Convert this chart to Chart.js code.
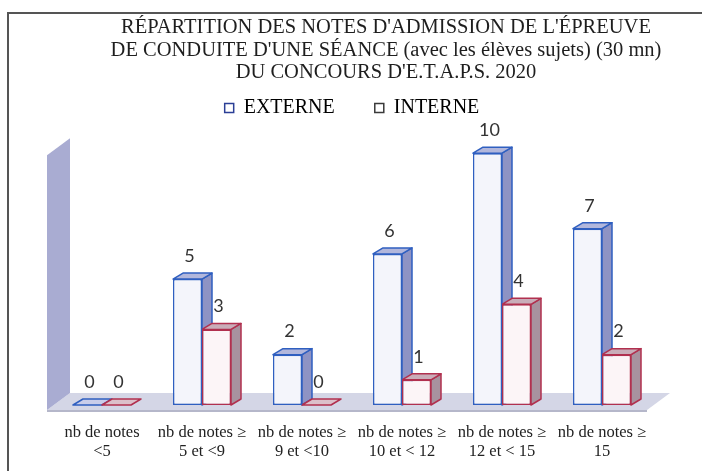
<!DOCTYPE html>
<html><head><meta charset="utf-8">
<script src="https://cdn.jsdelivr.net/npm/chart.js@4/dist/chart.umd.min.js"></script>
<style>html,body{margin:0;padding:0;background:#fff}#wrap{position:relative;width:702px;height:471px}</style>
</head><body><div id="wrap"><canvas id="c" width="702" height="471"></canvas></div>
<script>
const titleLines = ["RÉPARTITION DES NOTES D'ADMISSION DE L'ÉPREUVE", "DE CONDUITE D'UNE SÉANCE (avec les élèves sujets) (30 mn)", "DU CONCOURS D'E.T.A.P.S. 2020"];
const categories = [["nb de notes", "<5"], ["nb de notes ≥", "5 et <9"], ["nb de notes ≥", "9 et <10"], ["nb de notes ≥", "10 et < 12"], ["nb de notes ≥", "12 et < 15"], ["nb de notes ≥", "15"]];
const seriesNames = ["EXTERNE", "INTERNE"];
const externe = [0, 5, 2, 6, 10, 7];
const interne = [0, 3, 0, 1, 4, 2];
const wallTopValue = 10;

const SERIF = "'Liberation Serif', 'DejaVu Serif', serif";
const style = [
  {front: '#f4f5fb', border: '#2f5fc0', side: '#8e93c4', top: '#b2b7dc', flat: '#c9cdea', legend: '#2b3f96'},
  {front: '#fcf5f7', border: '#b1304f', side: '#a8929f', top: '#c9adb9', flat: '#dcc0ca', legend: '#3a3a3a'}
];
const D = {dx: 10, dy: -6};

const frame = {
  id: 'frame',
  beforeDraw(chart) {
    const ctx = chart.ctx;
    ctx.save();
    ctx.fillStyle = '#fff';
    ctx.fillRect(0, 0, chart.width, chart.height);
    ctx.strokeStyle = '#555';
    ctx.lineWidth = 2;
    ctx.beginPath();
    ctx.moveTo(8, chart.height);
    ctx.lineTo(8, 13);
    ctx.lineTo(chart.width, 13);
    ctx.stroke();
    ctx.fillStyle = '#1e1e1e';
    ctx.font = "20.5px " + SERIF;
    ctx.textAlign = 'center';
    ctx.textBaseline = 'middle';
    const ys = [28, 51, 73];
    titleLines.forEach((t, i) => ctx.fillText(t, 386, ys[i]));
    ctx.restore();
  }
};

const threeD = {
  id: 'threeD',
  beforeDatasetsDraw(chart) {
    const ctx = chart.ctx, a = chart.chartArea, y = chart.scales.y;
    const base = y.getPixelForValue(0);
    const wallTop = y.getPixelForValue(wallTopValue) + 2;
    const fx = a.left - 5, fy = base + 5, bdx = 23, bdy = -17;
    ctx.save();
    // floor
    ctx.beginPath();
    ctx.moveTo(fx, fy); ctx.lineTo(a.right - 5, fy);
    ctx.lineTo(a.right - 5 + bdx, fy + bdy); ctx.lineTo(fx + bdx, fy + bdy);
    ctx.closePath();
    ctx.fillStyle = '#d4d6e6';
    ctx.fill();
    ctx.fillStyle = '#b5b7ca';
    ctx.fillRect(fx, fy, a.right - 5 - fx, 2);
    // wall
    ctx.beginPath();
    ctx.moveTo(fx, fy); ctx.lineTo(fx, wallTop);
    ctx.lineTo(fx + bdx, wallTop + bdy); ctx.lineTo(fx + bdx, fy + bdy);
    ctx.closePath();
    ctx.fillStyle = '#a9acd2';
    ctx.fill();
    // bar side & top faces
    const n = chart.data.labels.length;
    for (let i = 0; i < n; i++) {
      chart.data.datasets.forEach((ds, di) => {
        const el = chart.getDatasetMeta(di).data[i];
        const s = style[di];
        const l = el.x - el.width / 2, r = el.x + el.width / 2, t = el.y, b = el.base;
        ctx.lineWidth = 1.5;
        ctx.strokeStyle = s.border;
        ctx.lineJoin = 'round';
        if (ds.data[i] > 0) {
          ctx.beginPath();
          ctx.moveTo(r, t); ctx.lineTo(r + D.dx, t + D.dy); ctx.lineTo(r + D.dx, b + D.dy); ctx.lineTo(r, b);
          ctx.closePath();
          ctx.fillStyle = s.side; ctx.fill(); ctx.stroke();
          ctx.beginPath();
          ctx.moveTo(l, t); ctx.lineTo(l + D.dx, t + D.dy); ctx.lineTo(r + D.dx, t + D.dy); ctx.lineTo(r, t);
          ctx.closePath();
          ctx.fillStyle = s.top; ctx.fill(); ctx.stroke();
        } else {
          ctx.beginPath();
          ctx.moveTo(l, b); ctx.lineTo(r, b); ctx.lineTo(r + D.dx, b + D.dy); ctx.lineTo(l + D.dx, b + D.dy);
          ctx.closePath();
          ctx.fillStyle = s.flat; ctx.fill(); ctx.stroke();
        }
      });
    }
    ctx.restore();
  },
  afterDatasetsDraw(chart) {
    const ctx = chart.ctx;
    ctx.save();
    ctx.fillStyle = '#333';
    ctx.font = "18px Lato, 'Open Sans', sans-serif";
    ctx.textAlign = 'center';
    ctx.textBaseline = 'middle';
    chart.data.datasets.forEach((ds, di) => {
      chart.getDatasetMeta(di).data.forEach((el, i) => {
        ctx.fillText(String(ds.data[i]), el.x + 2, el.y - 23);
      });
    });
    ctx.restore();
  }
};

new Chart(document.getElementById('c'), {
  type: 'bar',
  data: {
    labels: categories,
    datasets: [
      {label: seriesNames[0], data: externe, backgroundColor: style[0].front, borderColor: style[0].border, borderWidth: 1.5, borderSkipped: false},
      {label: seriesNames[1], data: interne, backgroundColor: style[1].front, borderColor: style[1].border, borderWidth: 1.5, borderSkipped: false}
    ]
  },
  options: {
    responsive: false,
    animation: false,
    layout: {padding: {top: 58, left: 52, right: 50, bottom: 0}},
    datasets: {bar: {categoryPercentage: 0.58, barPercentage: 1}},
    scales: {
      y: {display: false, min: 0, max: 11},
      x: {
        grid: {display: false}, border: {display: false},
        ticks: {color: '#222', font: {family: SERIF, size: 16.5, lineHeight: 1.1}, padding: 11, maxRotation: 0, autoSkip: false},
        afterFit(s) { s.height = 66; }
      }
    },
    plugins: {
      tooltip: {enabled: false},
      legend: {
        position: 'top',
        labels: {
          color: '#222', font: {family: SERIF, size: 20}, boxWidth: 9, boxHeight: 9, padding: 40,
          generateLabels(chart) {
            return chart.data.datasets.map((ds, i) => ({
              text: ds.label, fillStyle: '#fff', strokeStyle: style[i].legend, lineWidth: 1.5, datasetIndex: i, hidden: false
            }));
          }
        }
      }
    }
  },
  plugins: [frame, threeD]
});
</script></body></html>
